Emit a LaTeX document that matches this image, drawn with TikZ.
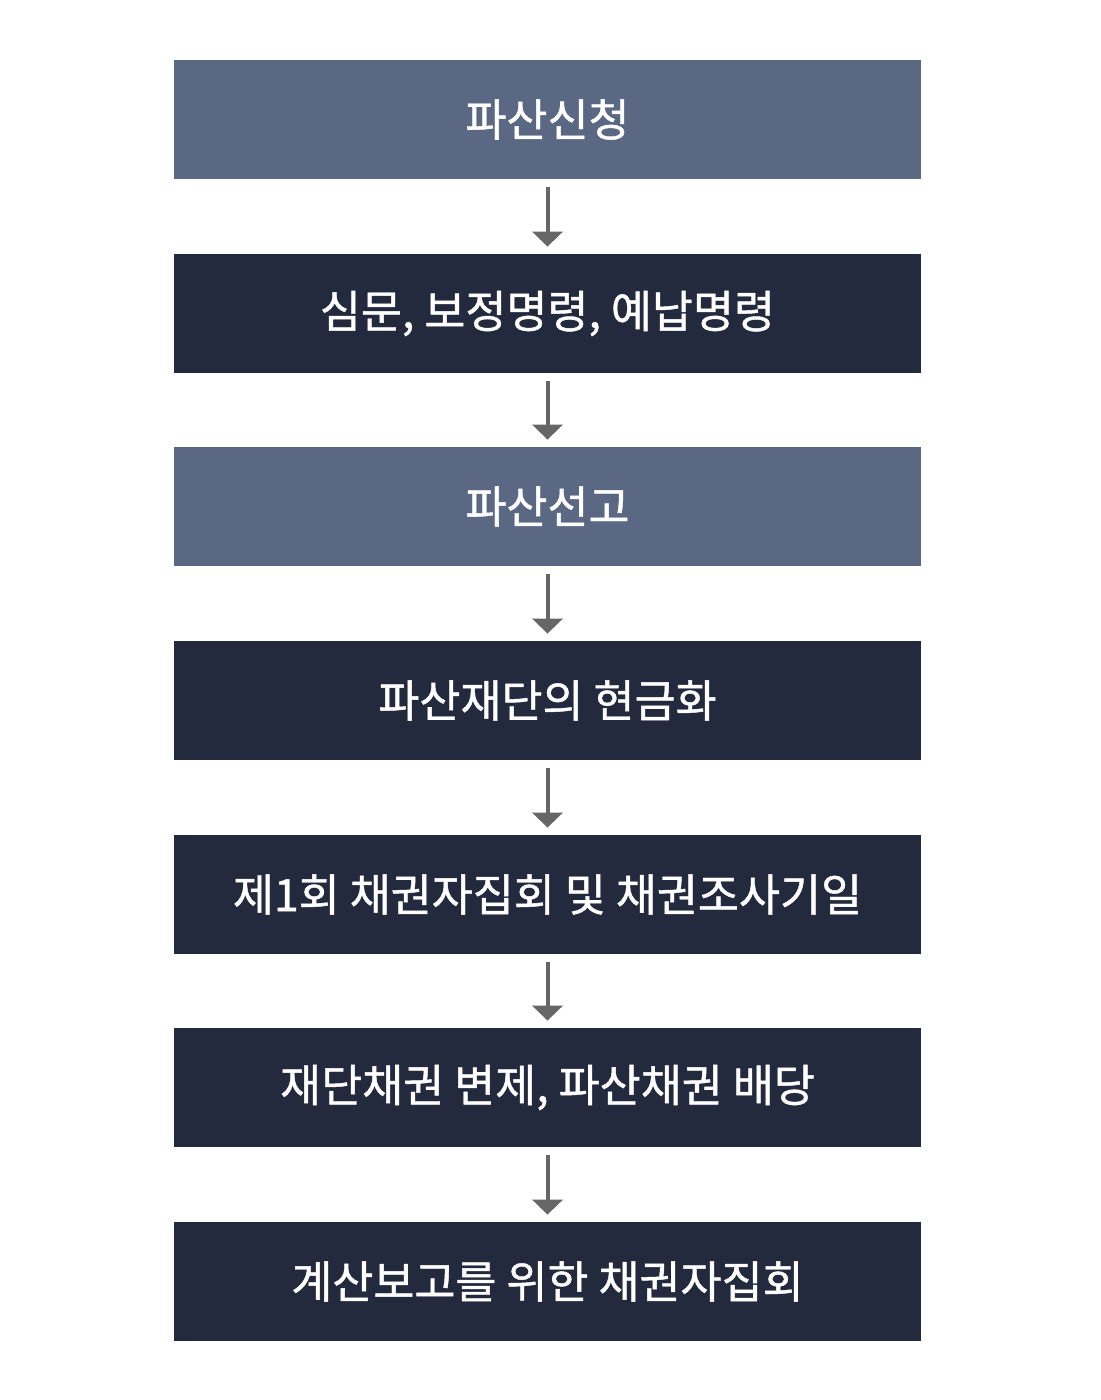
\documentclass[tikz,border=0pt]{standalone}
\usepackage{fontspec}
\setmainfont{Noto Sans CJK KR}[FakeBold=1.0]
\usetikzlibrary{arrows.meta}
\definecolor{lightbox}{HTML}{5A6883}
\definecolor{darkbox}{HTML}{232A3D}
\definecolor{arrowgray}{HTML}{666666}
\tikzset{
  stepbox/.style={rectangle, minimum width=373.5pt, minimum height=59.5pt, inner sep=0pt, text=white, font=\fontsize{22.3}{27}\selectfont},
  lightstep/.style={stepbox, fill=lightbox},
  darkstep/.style={stepbox, fill=darkbox},
  flowarrow/.style={draw=arrowgray, line width=2pt, -{Triangle[width=15pt,length=7.5pt]}, shorten <=4pt, shorten >=3.5pt}
}
\begin{document}
\begin{tikzpicture}[x=0.5pt,y=-0.5pt]
\useasboundingbox (0,0) rectangle (1100,1400);
\node[lightstep] (b1) at (547.5,119.5) {파산신청};
\node[darkstep]  (b2) at (547.5,313.5) {심문, 보정명령, 예납명령};
\node[lightstep] (b3) at (547.5,506.5) {파산선고};
\node[darkstep]  (b4) at (547.5,700.5) {파산재단의 현금화};
\node[darkstep]  (b5) at (547.5,894.5) {제1회 채권자집회 및 채권조사기일};
\node[darkstep]  (b6) at (547.5,1087.5) {재단채권 변제, 파산채권 배당};
\node[darkstep]  (b7) at (547.5,1281.5) {계산보고를 위한 채권자집회};
\foreach \a/\b in {b1/b2,b2/b3,b3/b4,b4/b5,b5/b6,b6/b7}
  \draw[flowarrow] (\a) -- (\b);
\end{tikzpicture}
\end{document}
